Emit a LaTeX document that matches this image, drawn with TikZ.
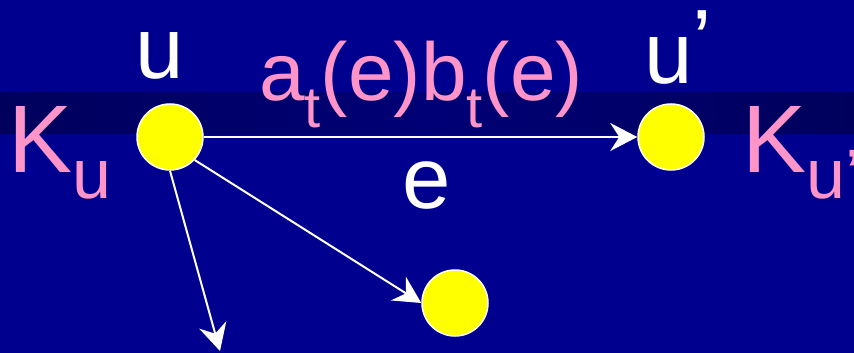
\documentclass[tikz,border=0pt]{standalone}
\usepackage{fontspec}
\setmainfont{Liberation Sans}
\usetikzlibrary{arrows.meta}
\definecolor{bgblue}{RGB}{0,0,142}
\definecolor{bgdark}{RGB}{0,0,92}
\definecolor{bgmid}{RGB}{0,0,118}
\definecolor{pinkish}{RGB}{255,148,200}
\definecolor{dotyellow}{RGB}{255,255,0}
\tikzset{
  dot/.style={circle, fill=dotyellow, draw=white, line width=1.5pt, minimum size=66pt, inner sep=0pt},
  edge/.style={draw=white, line width=2pt, -{Stealth[length=27pt, width=28pt, inset=9pt]}},
  bigtxt/.style={inner sep=0pt, font=\fontsize{87}{90}\selectfont},
  ktxt/.style={inner sep=0pt, text=pinkish, font=\fontsize{96}{100}\selectfont, anchor=base west},
}
\begin{document}
\begin{tikzpicture}[x=1pt,y=-1pt]
\useasboundingbox (0,0) rectangle (854,353);
\fill[bgblue] (0,0) rectangle (854,353);
\shade[left color=bgdark, right color=bgdark, middle color=bgmid] (0,92) rectangle (854,133);
% nodes
\node[dot] (u) at (170,137) {};
\node[dot] (up) at (671,137) {};
\node[dot] (v) at (455,303) {};
\coordinate (d) at (220,351);
% connectors
\draw[edge] (u.east) -- (up.west);
\draw[edge] (u.-43) -- (v.west);
\draw[edge] (u.south) -- (d);
% labels
\node[ktxt] (Ku) at (8,172) {K\raisebox{-26pt}{\fontsize{70}{70}\selectfont u}};
\node[ktxt] (Kup) at (742,172) {K\raisebox{-26pt}{\fontsize{70}{70}\selectfont u’}};
\node[bigtxt, text=white, anchor=base] (lu) at (160,78) {u};
\node[bigtxt, text=white, anchor=base west] (lup) at (644,83) {u\raisebox{13pt}{’}};
\node[bigtxt, text=white, anchor=base] (le) at (427,208) {e};
\node[inner sep=0pt, text=pinkish, anchor=base west, font=\fontsize{82}{86}\selectfont] (lab) at (259,100)
  {a\raisebox{-27pt}{\fontsize{58}{58}\selectfont t}(e)b\raisebox{-27pt}{\fontsize{58}{58}\selectfont t}(e)};
\end{tikzpicture}
\end{document}
